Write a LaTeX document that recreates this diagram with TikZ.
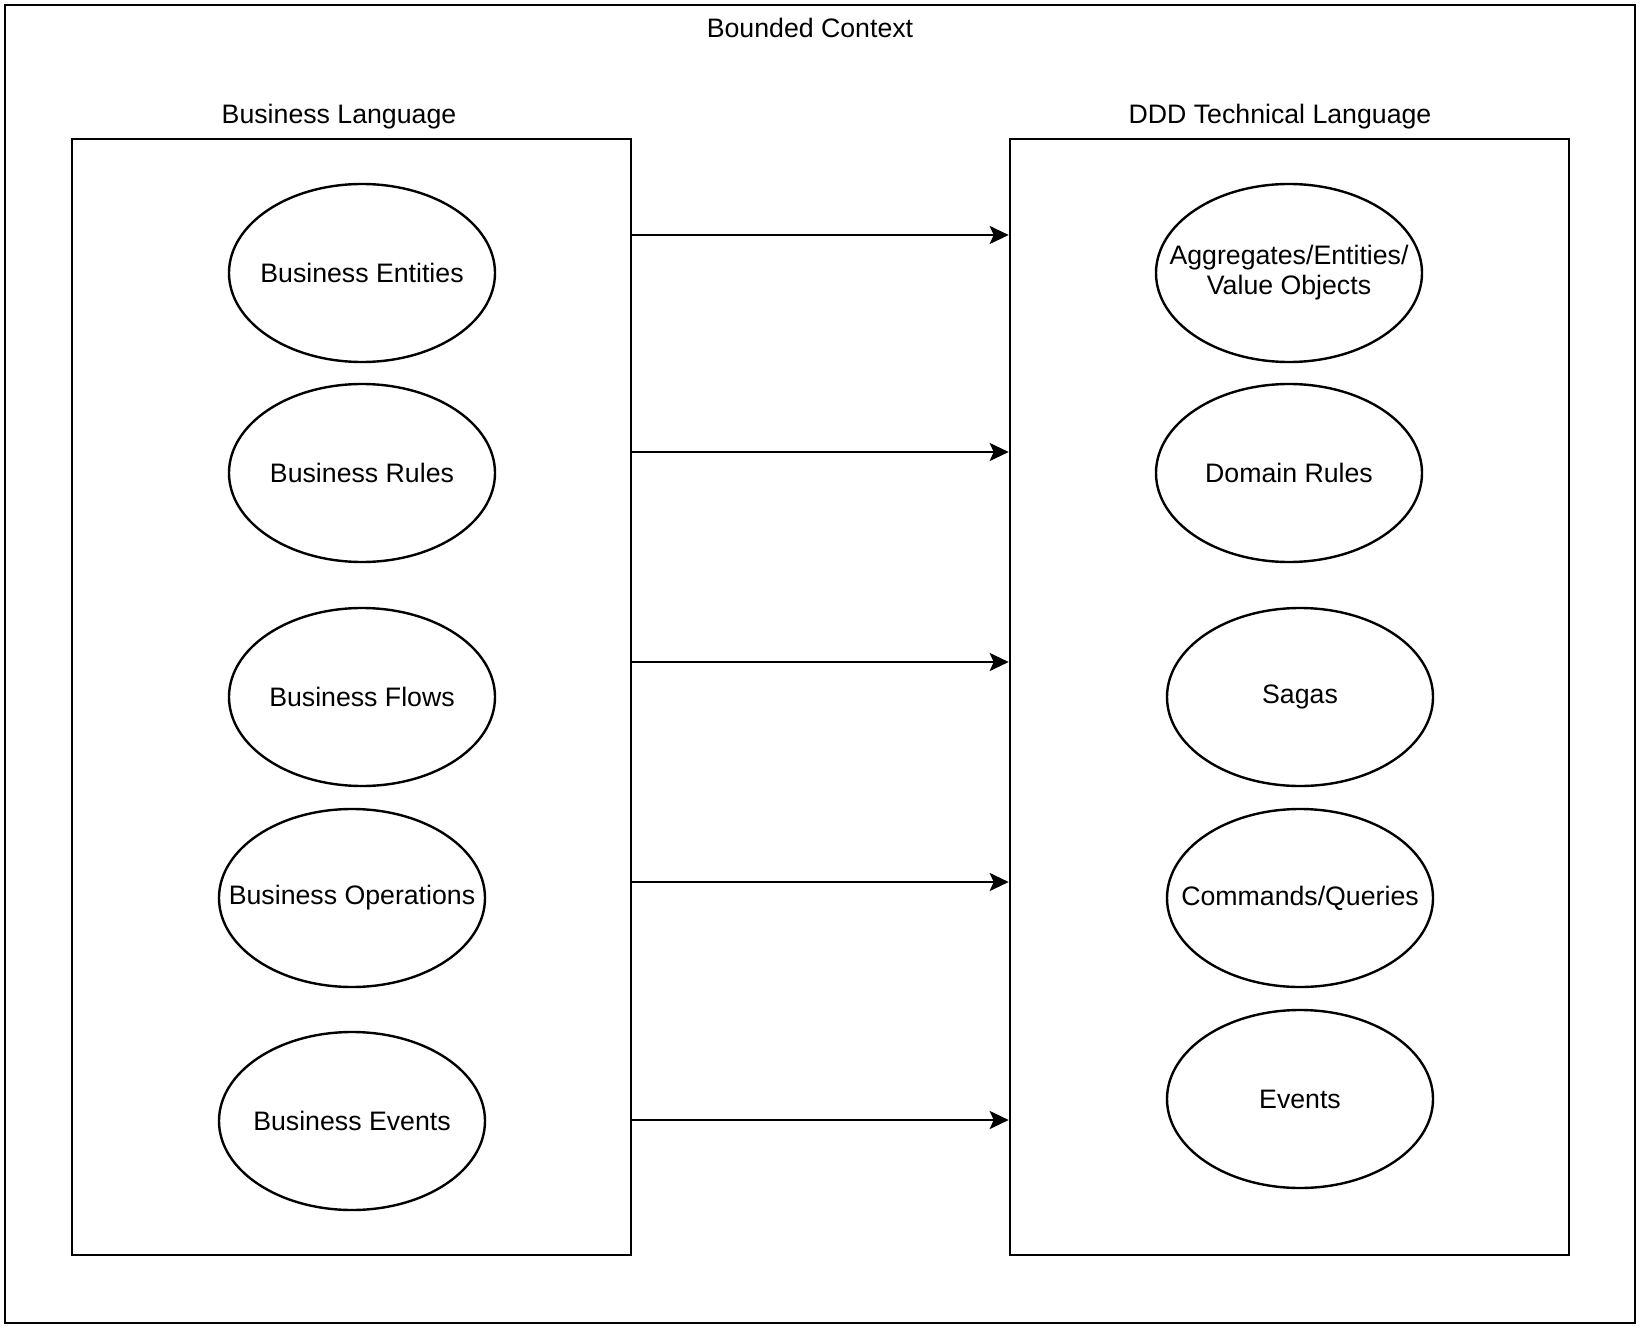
\documentclass[tikz,border=0pt]{standalone}
\usepackage{fontspec}
\setmainfont{Liberation Sans}
\usetikzlibrary{shapes.geometric,arrows.meta}
\tikzset{
  box/.style={draw=black,line width=2.6bp},
  txt/.style={inner sep=0pt,align=center,font=\fontsize{26.8}{30}\selectfont},
  oval/.style={ellipse,draw=black,line width=2.4bp,minimum width=266bp,minimum height=178bp,inner sep=0pt,label={[txt]center:#1}},
  lbl/.style={inner sep=0pt,font=\fontsize{26.8}{30}\selectfont},
  arr/.style={line width=2.6bp,-{Stealth[length=19bp,width=18bp,inset=4bp]}}
}
\begin{document}
\begin{tikzpicture}[x=1bp,y=-1bp]
\useasboundingbox (0,0) rectangle (1641,1328);
\fill[white] (0,0) rectangle (1641,1328);
\draw[box] (5,5) rectangle (1635,1323);
\node[lbl] (bc) at (810,28) {Bounded Context};
\node[box,minimum width=559bp,minimum height=1116bp,inner sep=0pt] (lbox) at (351.5,697) {};
\node[box,minimum width=559bp,minimum height=1116bp,inner sep=0pt] (rbox) at (1289.5,697) {};
\node[lbl] (bl) at (339,117) {Business Language};
\node[lbl] (dl) at (1280,117) {DDD Technical Language};
\node[oval={Business Entities}] (l1) at (362,273) {};
\node[oval={Business Rules}] (l2) at (362,473) {};
\node[oval={Business Flows}] (l3) at (362,697) {};
\node[oval={Business Operations}] (l4) at (352,898) {};
\node[oval={Business Events}] (l5) at (352,1121) {};
\node[oval={Aggregates/Entities/\\Value Objects}] (r1) at (1289,273) {};
\node[oval={Domain Rules}] (r2) at (1289,473) {};
\node[oval={Sagas}] (r3) at (1300,697) {};
\node[oval={Commands/Queries}] (r4) at (1300,898) {};
\node[oval={Events}] (r5) at (1300,1099) {};
\coordinate (y1) at (0,235);
\coordinate (y2) at (0,452);
\coordinate (y3) at (0,662);
\coordinate (y4) at (0,882);
\coordinate (y5) at (0,1120);
\foreach \i in {1,...,5}{
  \draw[arr] (lbox.east |- y\i) -- (rbox.west |- y\i);
}
\end{tikzpicture}
\end{document}
